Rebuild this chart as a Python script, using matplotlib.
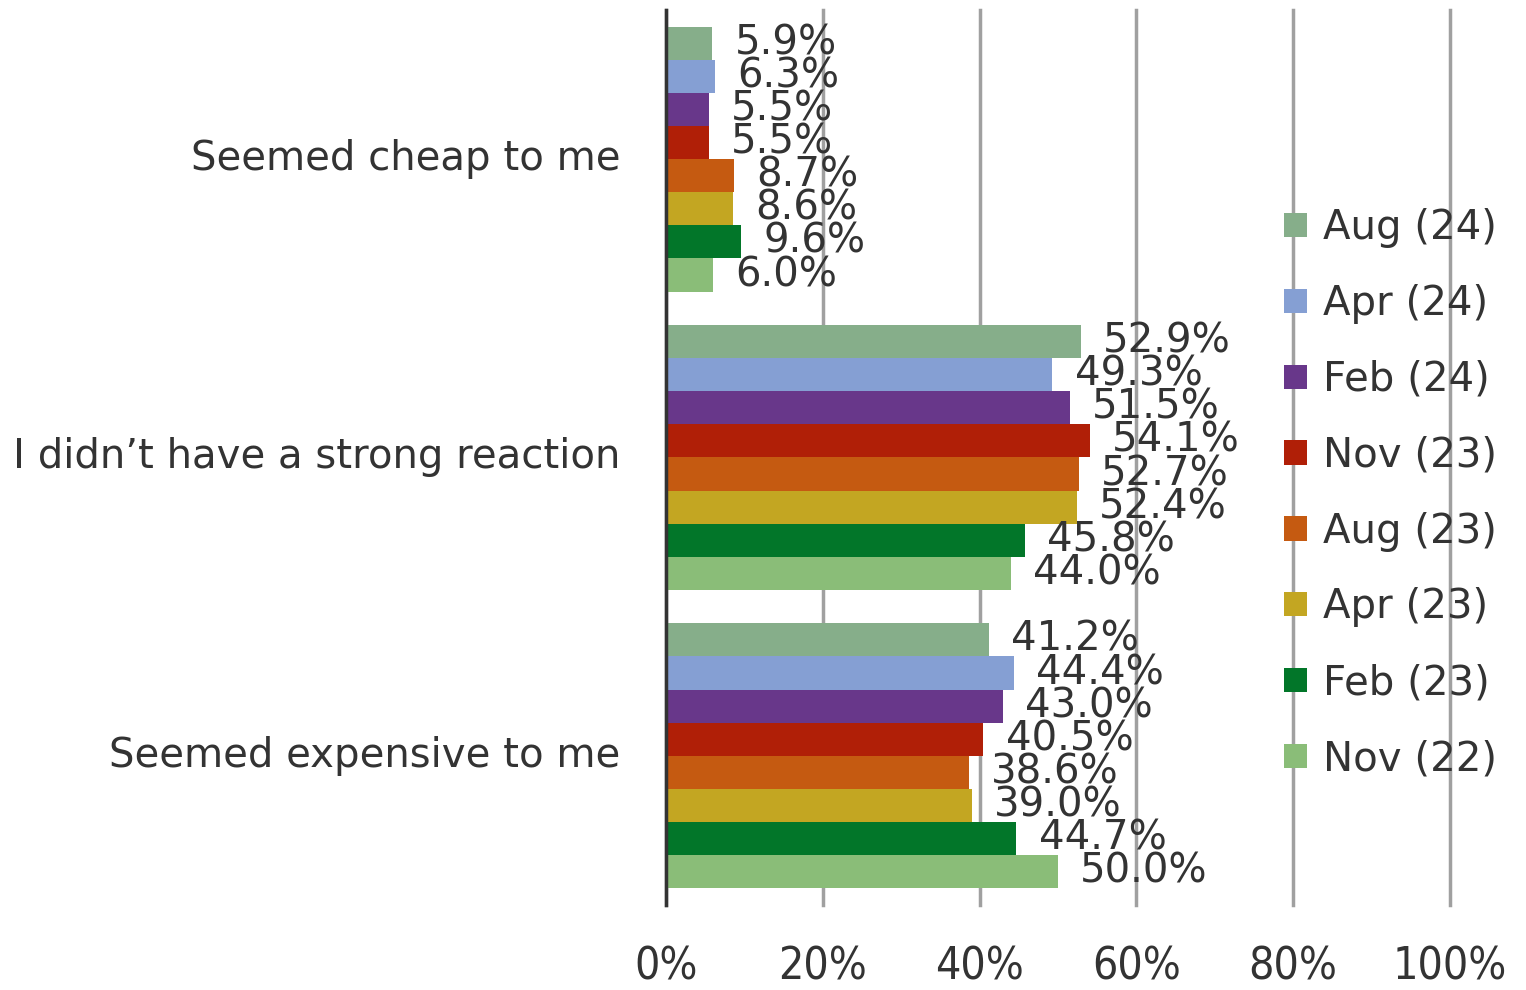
#!/usr/bin/env python3
"""Reaction to price chart: horizontal grouped bars."""

import numpy as np
import matplotlib
matplotlib.use("Agg")
import matplotlib.pyplot as plt

categories = ["Seemed cheap to me", "I didn\u2019t have a strong reaction", "Seemed expensive to me"]
series = ["Aug (24)", "Apr (24)", "Feb (24)", "Nov (23)", "Aug (23)", "Apr (23)", "Feb (23)", "Nov (22)"]

aug24 = [5.9, 52.9, 41.2]
apr24 = [6.3, 49.3, 44.4]
feb24 = [5.5, 51.5, 43.0]
nov23 = [5.5, 54.1, 40.5]
aug23 = [8.7, 52.7, 38.6]
apr23 = [8.6, 52.4, 39.0]
feb23 = [9.6, 45.8, 44.7]
nov22 = [6.0, 44.0, 50.0]

values = [aug24, apr24, feb24, nov23, aug23, apr23, feb23, nov22]
colors = ["#86AE8A", "#859FD3", "#68378A", "#B01F07", "#C55A11", "#C3A622", "#027629", "#8ABD78"]

TEXT = "#333333"
FS = 29


def main():
    fig = plt.figure(figsize=(15.26, 9.9), dpi=100)
    ax = fig.add_axes([0.4364, 0.0859, 0.5138, 0.904])

    n = len(series)
    h = 0.111
    y = np.arange(len(categories))
    for i, (name, vals, c) in enumerate(zip(series, values, colors)):
        pos = y - h * (n - 1) / 2 + i * h
        ax.barh(pos, vals, height=h, color=c, label=name, zorder=2)
        for p, v in zip(pos, vals):
            ax.annotate(f"{v:.1f}%", (v, p), xytext=(16, 0), textcoords="offset points",
                        ha="left", va="center", fontsize=FS, color=TEXT, zorder=3)

    ax.set_xlim(0, 100)
    ax.set_ylim(2.5, -0.5)
    ax.set_yticks(y)
    ax.set_yticklabels(categories, fontsize=FS, color=TEXT, va="center")
    ax.set_xticks([0, 20, 40, 60, 80, 100])
    ax.set_xticklabels(["0%", "20%", "40%", "60%", "80%", "100%"], fontsize=32, color=TEXT,
                       fontstretch="condensed")
    ax.tick_params(axis="x", length=0, pad=29)
    ax.tick_params(axis="y", length=0, pad=33)
    ax.xaxis.grid(True, color="#A0A0A0", linewidth=2.5, zorder=1)
    for gl in ax.xaxis.get_gridlines():
        gl.set_clip_on(False)
    ax.set_axisbelow(True)
    for s in ["top", "right", "bottom"]:
        ax.spines[s].set_visible(False)
    ax.spines["left"].set_color("#333333")
    ax.spines["left"].set_linewidth(2.5)

    fig.legend(loc="upper left", bbox_to_anchor=(0.8285, 0.81), frameon=False, fontsize=FS,
               handlelength=0.55, handleheight=0.55, handletextpad=0.4, labelspacing=0.89,
               borderpad=0, labelcolor=TEXT)

    fig.savefig("out.png", dpi=100, facecolor="white")


if __name__ == "__main__":
    main()
